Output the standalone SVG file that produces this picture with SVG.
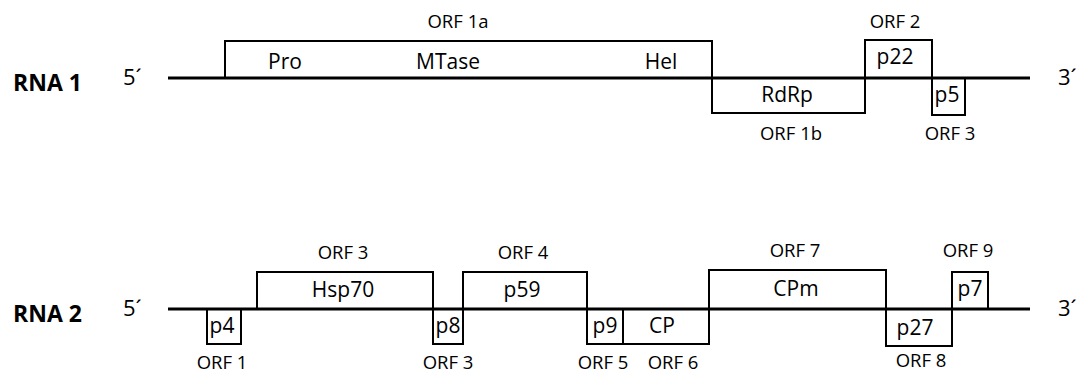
<svg xmlns="http://www.w3.org/2000/svg" width="1081" height="374" viewBox="0 0 1081 374">
<style>
.bg{fill:#ffffff}
.box{fill:none;stroke:#000;stroke-width:2}
.rna{stroke:#000;stroke-width:3;fill:none}
.t{font-family:"Open Sans","Liberation Sans",sans-serif;fill:#000;text-anchor:middle}
.lab{font-size:21px}
.orf{font-size:18.5px}
.title{font-family:"Open Sans","Liberation Sans",sans-serif;font-weight:bold;font-size:23px;fill:#000}
.end{font-family:"Open Sans","Liberation Sans",sans-serif;font-size:22px;fill:#000}
</style>
<rect class="bg" x="0" y="0" width="1081" height="374"/>

<g id="rna1-labels">
<text class="title" x="13" y="91">RNA 1</text>
<text class="end" x="123" y="85">5´</text>
<text class="end" x="1058" y="85">3´</text>
</g>
<g id="rna2-labels">
<text class="title" x="13" y="322">RNA 2</text>
<text class="end" x="123" y="316">5´</text>
<text class="end" x="1058" y="316">3´</text>
</g>

<g id="connectors">
<line class="rna" x1="168" y1="78" x2="1030" y2="78"/>
<line class="rna" x1="168" y1="309" x2="1030" y2="309"/>
</g>

<g id="orf1a">
<path class="box" d="M225,78 V41 H712 V78"/>
<text class="t orf" x="458" y="28">ORF 1a</text>
<text class="t lab" x="285" y="69">Pro</text>
<text class="t lab" x="448" y="69">MTase</text>
<text class="t lab" x="661" y="69">Hel</text>
</g>
<g id="orf1b">
<path class="box" d="M712,78 V113 H865 V78"/>
<text class="t lab" x="787" y="102">RdRp</text>
<text class="t orf" x="791" y="140">ORF 1b</text>
</g>
<g id="orf2">
<path class="box" d="M865,78 V40 H932 V78"/>
<text class="t orf" x="895" y="28">ORF 2</text>
<text class="t lab" x="895" y="64">p22</text>
</g>
<g id="orf3-rna1">
<path class="box" d="M932,78 V115 H965 V78"/>
<text class="t lab" x="947" y="102">p5</text>
<text class="t orf" x="950" y="140">ORF 3</text>
</g>

<g id="p4">
<path class="box" d="M207,309 V344 H241 V309"/>
<text class="t lab" x="222" y="333">p4</text>
<text class="t orf" x="222" y="369">ORF 1</text>
</g>
<g id="hsp70">
<path class="box" d="M257,309 V272 H433 V309"/>
<text class="t orf" x="343" y="259">ORF 3</text>
<text class="t lab" x="343" y="297">Hsp70</text>
</g>
<g id="p8">
<path class="box" d="M433,309 V344 H463 V309"/>
<text class="t lab" x="448" y="333">p8</text>
<text class="t orf" x="448" y="369">ORF 3</text>
</g>
<g id="p59">
<path class="box" d="M463,309 V272 H587 V309"/>
<text class="t orf" x="523" y="259">ORF 4</text>
<text class="t lab" x="522" y="297">p59</text>
</g>
<g id="p9">
<path class="box" d="M587,309 V344 H623 V309"/>
<text class="t lab" x="605" y="333">p9</text>
<text class="t orf" x="603" y="369">ORF 5</text>
</g>
<g id="cp">
<path class="box" d="M623,309 V344 H709 V309"/>
<text class="t lab" x="662" y="333">CP</text>
<text class="t orf" x="673" y="369">ORF 6</text>
</g>
<g id="cpm">
<path class="box" d="M709,309 V270 H886 V309"/>
<text class="t orf" x="795" y="257">ORF 7</text>
<text class="t lab" x="796" y="296">CPm</text>
</g>
<g id="p27">
<path class="box" d="M886,309 V346 H952 V309"/>
<text class="t lab" x="915" y="335">p27</text>
<text class="t orf" x="921" y="367">ORF 8</text>
</g>
<g id="p7">
<path class="box" d="M952,309 V272 H988 V309"/>
<text class="t orf" x="968" y="257">ORF 9</text>
<text class="t lab" x="970" y="296">p7</text>
</g>
</svg>
